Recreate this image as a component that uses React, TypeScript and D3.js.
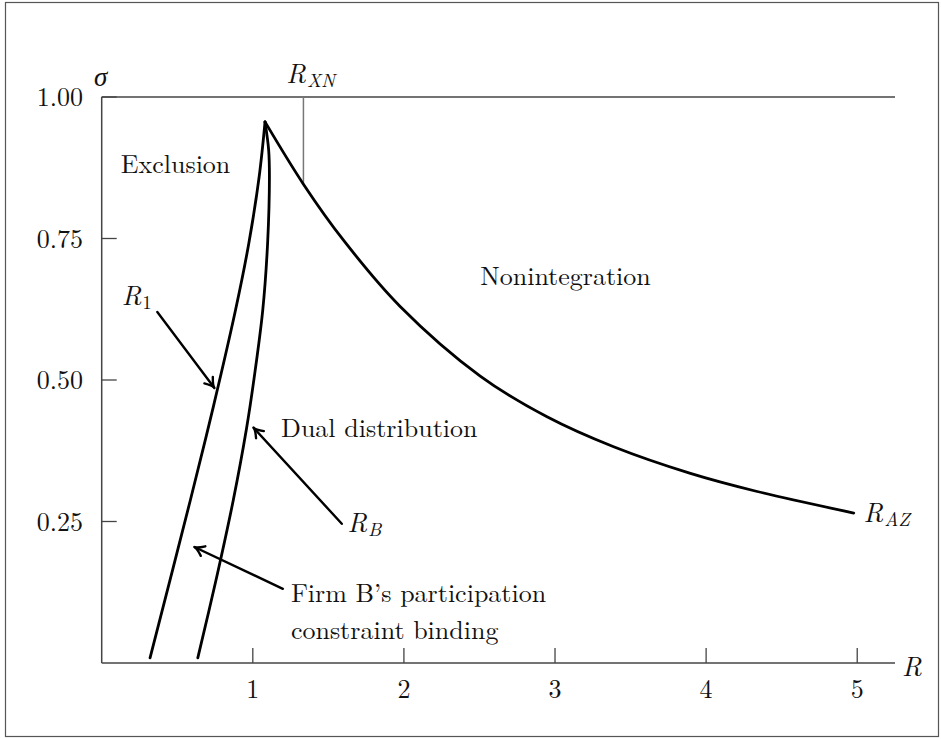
import React from "react";
import * as d3 from "d3";

// curve readings (R, sigma)
const r1Curve: [number, number][] = [
  [0.32, 0.009], [0.587, 0.288], [0.739, 0.453], [0.886, 0.624],
  [0.974, 0.742], [1.042, 0.859], [1.081, 0.956],
];
const rbCurve: [number, number][] = [
  [0.636, 0.009], [0.757, 0.147], [0.871, 0.288], [0.957, 0.412],
  [1.01, 0.506], [1.066, 0.624], [1.098, 0.742], [1.11, 0.859],
  [1.105, 0.906], [1.081, 0.956],
];
const razCurve: [number, number][] = [
  [1.081, 0.956], [1.335, 0.846], [1.6, 0.747], [1.975, 0.63],
  [2.505, 0.507], [2.947, 0.435], [3.388, 0.382], [3.896, 0.335],
  [4.338, 0.303], [4.977, 0.265],
];
const rXN = 1.335;
const rXNTop = 1.0;
const rXNBottom = 0.846;

const xTicks = [1, 2, 3, 4, 5];
const yTicks = [0.25, 0.5, 0.75, 1.0];
const yTickLabels = ["0.25", "0.50", "0.75", "1.00"];

// arrows: [fromR, fromSigma, toR, toSigma]
const arrows: [number, number, number, number][] = [
  [0.368, 0.62, 0.746, 0.486],
  [1.589, 0.246, 1.004, 0.416],
  [1.199, 0.131, 0.613, 0.205],
];

const regionLabels = [
  { text: "Exclusion", r: 0.126, s: 0.865 },
  { text: "Nonintegration", r: 2.505, s: 0.668 },
  { text: "Dual distribution", r: 1.187, s: 0.399 },
  { text: "Firm B\u2019s participation", r: 1.252, s: 0.107 },
  { text: "constraint binding", r: 1.252, s: 0.043 },
];

const curveLabels = [
  { main: "R", sub: "1", subItalic: false, r: 0.132, s: 0.633 },
  { main: "R", sub: "B", subItalic: true, r: 1.626, s: 0.232 },
  { main: "R", sub: "AZ", subItalic: true, r: 5.042, s: 0.249 },
  { main: "R", sub: "XN", subItalic: true, r: 1.221, s: 1.025 },
];

const W = 941;
const H = 739;
const FONT = "'Latin Modern Roman'";

const x = d3.scaleLinear().domain([0, 5.25]).range([101.7, 895]);
const y = d3.scaleLinear().domain([0, 1]).range([663, 97]);

const line = d3
  .line<[number, number]>()
  .x((d) => x(d[0]))
  .y((d) => y(d[1]))
  .curve(d3.curveCatmullRom.alpha(0.5));

function arrowHead(x1: number, y1: number, x2: number, y2: number) {
  const a = Math.atan2(y2 - y1, x2 - x1);
  const len = 11;
  const spread = 0.5;
  const p1 = [x2 - len * Math.cos(a - spread), y2 - len * Math.sin(a - spread)];
  const p2 = [x2 - len * Math.cos(a + spread), y2 - len * Math.sin(a + spread)];
  const cx = x2 - 3 * Math.cos(a);
  const cy = y2 - 3 * Math.sin(a);
  return `M${p1[0]},${p1[1]} Q${cx},${cy} ${x2},${y2} Q${cx},${cy} ${p2[0]},${p2[1]}`;
}

export default function App() {
  const axisColor = "#444";
  const txt = { fontFamily: FONT };
  return (
    <svg width={W} height={H} style={{ position: "absolute", left: 0, top: 0, background: "#fff" }}>
      <rect x={5.5} y={2.5} width={933} height={734} fill="#fff" stroke="#555" strokeWidth={1.2} />

      {/* axes frame */}
      <line x1={x(0)} x2={x(0)} y1={y(0)} y2={y(1)} stroke={axisColor} strokeWidth={1.5} />
      <line x1={x(0)} x2={x(5.25)} y1={y(0)} y2={y(0)} stroke={axisColor} strokeWidth={1.5} />
      <line x1={x(0)} x2={x(5.25)} y1={y(1)} y2={y(1)} stroke={axisColor} strokeWidth={1.5} />

      {xTicks.map((t) => (
        <g key={"x" + t}>
          <line x1={x(t)} x2={x(t)} y1={y(0)} y2={y(0) - 15} stroke={axisColor} strokeWidth={1.3} />
          <text x={x(t)} y={698} fontSize={26} textAnchor="middle" fill="#111" style={txt}>
            {t}
          </text>
        </g>
      ))}
      {yTicks.map((t, i) => (
        <g key={"y" + t}>
          <line x1={x(0)} x2={x(0) + 15} y1={y(t)} y2={y(t)} stroke={axisColor} strokeWidth={1.3} />
          <text x={83} y={y(t) + 9} fontSize={26} textAnchor="end" fill="#111" style={txt}>
            {yTickLabels[i]}
          </text>
        </g>
      ))}
      <text x={902} y={676} fontSize={27} fontStyle="italic" fill="#111" style={txt}>R</text>
      <text x={94} y={86} fontSize={27} fontStyle="italic" fill="#111" style={txt}>σ</text>

      {/* R_XN vertical */}
      <line x1={x(rXN)} x2={x(rXN)} y1={y(rXNTop)} y2={y(rXNBottom)} stroke="#777" strokeWidth={1.5} />

      {/* curves */}
      {[r1Curve, rbCurve, razCurve].map((c, i) => (
        <path key={i} d={line(c) || ""} fill="none" stroke="#000" strokeWidth={2.8} strokeLinejoin="round" strokeLinecap="round" />
      ))}

      {/* arrows */}
      {arrows.map((a, i) => {
        const x1 = x(a[0]), y1 = y(a[1]), x2 = x(a[2]), y2 = y(a[3]);
        return (
          <g key={"a" + i} fill="none" stroke="#000" strokeWidth={2.4} strokeLinecap="round">
            <line x1={x1} y1={y1} x2={x2} y2={y2} />
            <path d={arrowHead(x1, y1, x2, y2)} />
          </g>
        );
      })}

      {regionLabels.map((l) => (
        <text key={l.text} x={x(l.r)} y={y(l.s)} fontSize={26} fill="#111" style={txt}>
          {l.text}
        </text>
      ))}

      {curveLabels.map((l) => (
        <text key={l.sub} x={x(l.r)} y={y(l.s)} fontSize={27} fill="#111" style={txt}>
          <tspan fontStyle="italic">{l.main}</tspan>
          <tspan fontSize={19} dy={4} dx={1} fontStyle={l.subItalic ? "italic" : "normal"}>
            {l.sub}
          </tspan>
        </text>
      ))}
    </svg>
  );
}
